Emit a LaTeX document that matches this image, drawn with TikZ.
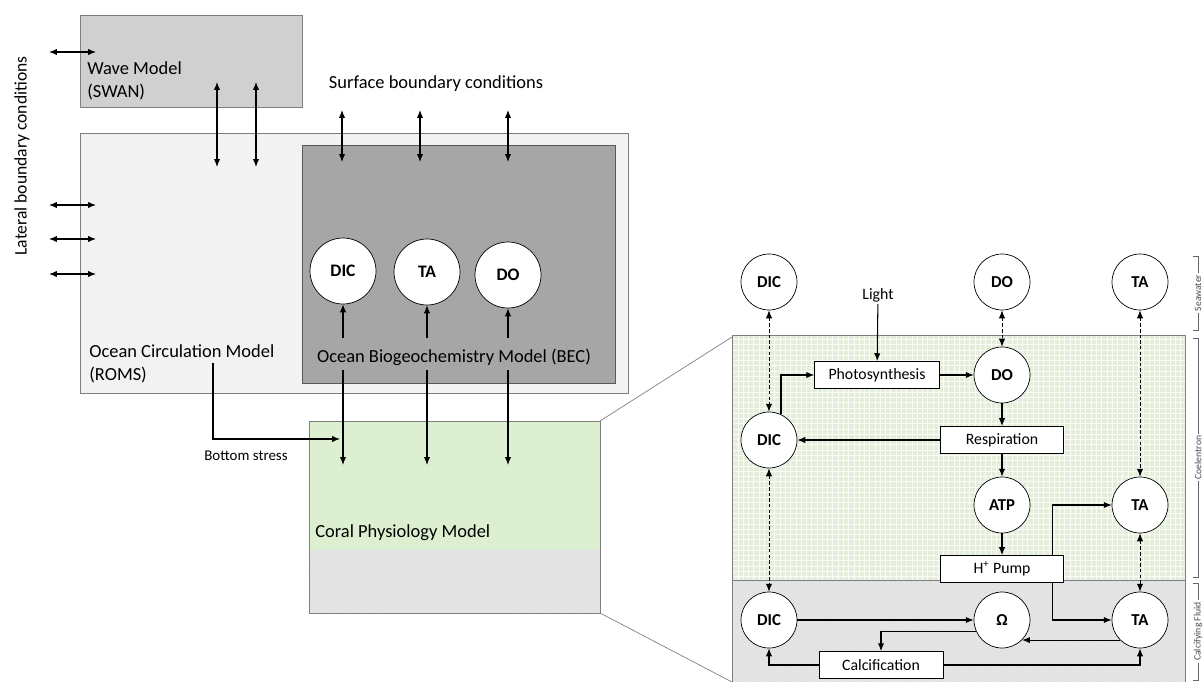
\documentclass[tikz,border=0pt]{standalone}
\usepackage{fontspec}
\setmainfont{Carlito}
\usetikzlibrary{arrows.meta,patterns}

\definecolor{wavegray}{HTML}{D0D0D0}
\definecolor{romsgray}{HTML}{F2F2F2}
\definecolor{becgray}{HTML}{A6A6A6}
\definecolor{coralgreen}{HTML}{DCEFD0}
\definecolor{zoomgreen}{HTML}{E4EEDA}
\definecolor{fluidgray}{HTML}{E4E4E6}
\definecolor{edgegray}{HTML}{7F7F7F}

\begin{document}
\begin{tikzpicture}[x=0.02cm, y=-0.02cm,
		arr/.style={-{Latex[length=4.5pt,width=3.6pt]}, line width=0.6pt},
		darr/.style={{Latex[length=4.5pt,width=3.6pt]}-{Latex[length=4.5pt,width=3.6pt]}, line width=0.6pt},
		dotarr/.style={darr, line width=0.5pt, dash pattern=on 2pt off 1.2pt},
		bigcirc/.style={circle, draw, fill=white, minimum size=1.32cm, inner sep=0pt, font=\bfseries},
		smallcirc/.style={circle, draw, fill=white, minimum size=1.12cm, inner sep=0pt, font=\fontsize{9.5}{11}\bfseries},
		procbox/.style={rectangle, draw, fill=white, minimum height=0.54cm, minimum width=2.46cm, inner sep=0pt, font=\fontsize{9}{11}\selectfont},
		modeltext/.style={anchor=west, align=left, inner sep=0pt, font=\fontsize{10.5}{13}\selectfont},
		sidelabel/.style={rotate=90, fill=white, inner sep=1pt, text=black!70, font=\fontsize{5.5}{6}\selectfont}]
	\useasboundingbox (0,0) rectangle (1203,682);

	\draw[edgegray, fill=wavegray] (80,15) rectangle (302,107);
	\draw (87,81) node [modeltext] (wavelabel) {Wave Model\\(SWAN)};
	\draw[edgegray, fill=romsgray] (80,133) rectangle (628,393);
	\draw[black!65, fill=becgray] (302,145) rectangle (615,383);
	\draw (89,364) node [modeltext] (romslabel) {Ocean Circulation Model\\(ROMS)};
	\draw (454,357) node [font=\fontsize{10.5}{13}\selectfont] (beclabel) {Ocean Biogeochemistry Model (BEC)};

	\fill[coralgreen] (309,421) rectangle (600,550);
	\fill[fluidgray] (309,550) rectangle (600,613);
	\fill[pattern=crosshatch dots, pattern color=gray!25] (309,550) rectangle (600,613);
	\draw[edgegray] (309,421) rectangle (600,613);
	\coordinate (coralne) at (600,421);
	\coordinate (coralse) at (600,613);
	\draw (315,533) node [modeltext] (corallabel) {Coral Physiology Model};

	\draw (22,156) node [rotate=90, font=\fontsize{10}{12}\selectfont] (latlabel) {Lateral boundary conditions};
	\draw (436,84) node [font=\fontsize{10.5}{13}\selectfont] (surflabel) {Surface boundary conditions};
	\draw (246,456) node [font=\fontsize{8.5}{10}\selectfont] (stresslabel) {Bottom stress};

	\foreach \y [count=\i] in {52,205,239,274} {
		\coordinate (la\i) at (49,\y);
		\coordinate (lb\i) at (96,\y);
		\draw[darr] (la\i) -- (lb\i);
	}
	\foreach \x [count=\i] in {217,256} {
		\coordinate (wa\i) at (\x,82);
		\coordinate (wb\i) at (\x,167);
		\draw[darr] (wa\i) -- (wb\i);
	}
	\foreach \x [count=\i] in {342,420,508} {
		\coordinate (sa\i) at (\x,110);
		\coordinate (sb\i) at (\x,162);
		\draw[darr] (sa\i) -- (sb\i);
	}

	\draw (343,271) node [bigcirc] (bdic) {DIC};
	\draw (427,272) node [bigcirc] (bta) {TA};
	\draw (508,275) node [bigcirc] (bdo) {DO};
	\foreach \n/\x [count=\i] in {bdic/343,bta/427,bdo/508} {
		\coordinate (ua\i) at (\x,338);
		\draw[arr] (ua\i) -- (\n);
		\coordinate (da\i) at (\x,370);
		\coordinate (db\i) at (\x,465);
		\draw[arr] (da\i) -- (db\i);
	}
	\coordinate (bs0) at (213,363);
	\coordinate (bs1) at (340,439);
	\draw[arr] (bs0) |- (bs1);

	\fill[zoomgreen] (732,335) rectangle (1185,580);
	\fill[pattern=grid, pattern color=white!80!zoomgreen] (732,335) rectangle (1185,580);
	\fill[fluidgray] (732,580) rectangle (1185,682);
	\fill[pattern=crosshatch dots, pattern color=gray!25] (732,580) rectangle (1185,682);
	\draw[edgegray] (732,682) -- (732,335) -- (1185,335) -- (1185,682);
	\draw[edgegray] (732,580) -- (1185,580);
	\coordinate (zoomnw) at (732,337);
	\coordinate (zoomsw) at (732,682);
	\draw[edgegray] (coralne) -- (zoomnw);
	\draw[edgegray] (coralse) -- (zoomsw);

	\foreach \ya/\yb/\lab in {256/330/Seawater, 338/577/Coelentron, 583/680/Calcifying Fluid} {
		\draw[black!60, line width=0.4pt] (1193,\ya) -- (1198,\ya) -- (1198,\yb) -- (1193,\yb);
		\draw (1198,{(\ya+\yb)/2}) node [sidelabel] {\lab};
	}

	\draw (769,282) node [smallcirc] (dic1) {DIC};
	\draw (1002,282) node [smallcirc] (do1) {DO};
	\draw (1140,282) node [smallcirc] (ta1) {TA};
	\draw (878,295) node [font=\fontsize{9}{11}\selectfont, inner sep=1pt] (light) {Light};
	\draw (877,375) node [procbox, minimum width=2.5cm] (photo) {Photosynthesis};
	\draw (1002,375) node [smallcirc] (do2) {DO};
	\draw (769,440) node [smallcirc] (dic2) {DIC};
	\draw (1002,440) node [procbox] (resp) {Respiration};
	\draw (1002,505) node [smallcirc] (atp) {ATP};
	\draw (1140,505) node [smallcirc] (ta2) {TA};
	\draw (1002,569) node [procbox] (pump) {H\textsuperscript{+} Pump};
	\draw (769,620) node [smallcirc] (dic3) {DIC};
	\draw (1002,620) node [smallcirc] (omega) {Ω};
	\draw (1140,620) node [smallcirc] (ta3) {TA};
	\draw (881,665) node [procbox, minimum width=2.48cm] (calc) {Calcification};

	\path (dic1) edge [dotarr] (dic2);
	\path (do1) edge [dotarr] (do2);
	\path (ta1) edge [dotarr] (ta2);
	\path (dic2) edge [dotarr] (dic3);
	\path (ta2) edge [dotarr] (ta3);
	\path (light) edge [arr] (photo);
	\draw[arr] (dic2.65) |- (photo);
	\path (photo) edge [arr] (do2);
	\path (do2) edge [arr] (resp);
	\path (resp) edge [arr] (dic2);
	\path (resp) edge [arr] (atp);
	\path (atp) edge [arr] (pump);
	\draw[arr] ([xshift=-0.22cm]pump.north east) |- (ta2);
	\draw[arr] ([xshift=-0.22cm]pump.south east) |- (ta3);
	\path (dic3) edge [arr] (omega);
	\draw[arr] (omega.203) -| (calc);
	\path (ta3.225) edge [arr] (omega.-45);
	\draw[arr] (calc.west) -| (dic3);
	\draw[arr] (calc.east) -| (ta3);
\end{tikzpicture}
\end{document}
